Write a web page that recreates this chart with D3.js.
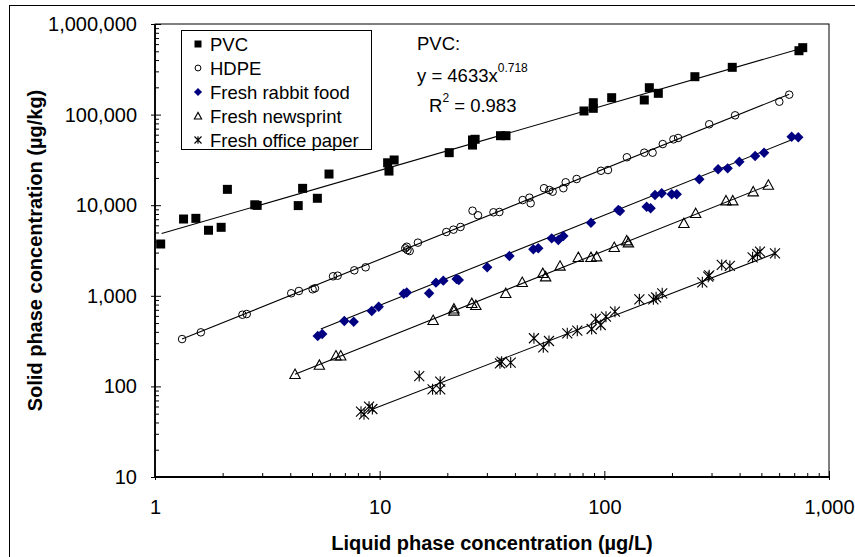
<!DOCTYPE html>
<html><head><meta charset="utf-8">
<script src="https://cdn.jsdelivr.net/npm/d3@7"></script>
<style>
html,body{margin:0;padding:0;background:#fff;}
svg{display:block;font-family:"Liberation Sans",Arial,sans-serif;}
</style></head>
<body>
<svg id="chart" width="855" height="557"></svg>
<script>
// ---- data ----
const seriesNames = ["PVC","HDPE","Fresh rabbit food","Fresh newsprint","Fresh office paper"];
const pvc = [[1.06,3730],[1.34,7040],[1.52,7160],[1.73,5290],[1.97,5700],[2.10,14960],[2.78,10100],[2.85,9950],[4.34,9900],[4.54,15350],[5.28,11920],[5.95,22080],[10.85,29400],[11.6,31550],[11.0,23800],[20.4,38000],[25.9,52500],[26.6,53400],[25.9,46100],[34.5,58500],[36.5,58500],[81.2,109600],[89.3,117300],[89.3,135300],[107.8,153700],[150.6,145000],[158.6,198100],[173.9,171700],[253,262000],[371,332400],[735,507000],[764,548000]];
const hdpe = [[1.32,333],[1.60,395],[2.45,618],[2.56,629],[4.04,1066],[4.37,1130],[5.03,1180],[5.15,1210],[6.2,1641],[6.5,1667],[7.71,1911],[8.66,2063],[13.0,3344],[13.3,3200],[13.6,3120],[13.2,3480],[14.8,3860],[19.8,5060],[21.3,5370],[22.9,5750],[25.9,8690],[27.4,7740],[32.1,8350],[34.1,8410],[43.3,11400],[46.4,12100],[47.0,10500],[53.9,15400],[56.9,14700],[58.9,14100],[65.7,15400],[67.3,17900],[75.3,19460],[96.6,24000],[103.8,24450],[126,33800],[150.6,38000],[164,38000],[182,47300],[203,53300],[213,55200],[293,78200],[382,98200],[601,138800],[665,166000]];
const rabbit = [[5.3,360],[5.55,378],[6.96,527],[7.66,518],[9.22,679],[9.9,758],[12.8,1055],[13.2,1085],[16.6,1066],[17.8,1397],[19.2,1470],[22.0,1530],[22.5,1493],[30.1,2063],[37.8,2750],[48.3,3260],[50.8,3343],[58.3,4305],[62.4,4130],[65.7,4570],[87.2,6410],[115.4,8850],[117.4,8630],[154.3,9620],[160.7,9240],[168.1,12960],[180,13520],[199.5,13200],[210,13200],[264.7,19300],[321,24900],[354,25500],[399,30200],[469,34900],[514,38000],[682,57000],[730,56100]];
const newsprint = [[4.20,136],[5.39,172],[6.39,218],[6.71,218],[17.3,537],[21.4,720],[21.4,680],[25.7,826],[26.8,785],[36.4,1066],[43.1,1410],[53.2,1770],[54.8,1626],[63.5,2134],[76.6,2660],[87.2,2660],[92.4,2700],[110.7,3430],[125.8,4060],[128,3855],[226,6310],[255,8130],[348,11210],[373,11210],[460,14100],[537,16700]];
const office = [[8.26,52.6],[8.52,49.2],[8.97,59.7],[9.28,56.3],[15.0,130],[17.2,92.9],[18.6,112.7],[18.6,92.9],[34.3,180],[34.9,187.6],[38.3,183],[48.6,340],[53.5,270],[56.7,317],[68.4,385],[75.8,412],[87.8,430],[91.5,555],[96.4,476],[101.7,588],[111.5,668],[143.2,915],[165.3,915],[170,962],[181,1066],[273,1410],[290,1626],[293,1683],[333,2190],[362,2134],[457,2660],[480,2893],[493,3070],[575,2946]];
// power-law fit lines y = a * x^b
const fitA = [4633, 252, 79.2, 32.9, 6.59];
const fitB = [0.718, 1.0, 0.996, 0.99, 0.96];
const fitXmin = [1.07, 1.32, 5.47, 4.2, 9.28];
const fitXmax = [785, 665, 718, 537, 575];
const xTicks = [1,10,100,1000];
const yTicks = [10,100,1000,10000,100000,1000000];

const allSeries = [pvc,hdpe,rabbit,newsprint,office];

// ---- layout ----
const L=155, R=829, T=24, B=477;
const svg = d3.select("#chart");
const x = d3.scaleLog().domain([1,1000]).range([L,R]);
const y = d3.scaleLog().domain([10,1e6]).range([B,T]);

// outer chart border (top/left visible)
svg.append("rect").attr("x",9.5).attr("y",5.5).attr("width",900).attr("height",600)
  .attr("fill","none").attr("stroke","#000").attr("stroke-width",1);

// minor ticks
const minorX = [], minorY = [];
for (let d=1; d<1000; d*=10) for (let k=2;k<=9;k++) minorX.push(d*k);
for (let d=10; d<1e6; d*=10) for (let k=2;k<=9;k++) minorY.push(d*k);

const fmt = d3.format(",");
function styleAxis(g){ g.select(".domain").remove(); g.selectAll("line").attr("stroke","#000"); }

svg.append("g").attr("transform",`translate(0,${B})`)
  .call(d3.axisBottom(x).tickValues(minorX).tickSize(-4).tickSizeOuter(0).tickFormat(""))
  .call(styleAxis);
svg.append("g").attr("transform",`translate(0,${B})`)
  .call(d3.axisBottom(x).tickValues(xTicks).tickSize(-6).tickSizeOuter(0).tickFormat(""))
  .call(styleAxis);
const gx = svg.append("g").attr("transform",`translate(0,${B})`)
  .call(d3.axisBottom(x).tickValues(xTicks).tickSize(3).tickSizeOuter(0).tickPadding(20).tickFormat(fmt))
  .call(styleAxis);
gx.selectAll("text").attr("font-size",20).attr("fill","#000").attr("font-family","Liberation Sans, Arial, sans-serif");

svg.append("g").attr("transform",`translate(${L},0)`)
  .call(d3.axisLeft(y).tickValues(minorY).tickSize(-4).tickSizeOuter(0).tickFormat(""))
  .call(styleAxis);
svg.append("g").attr("transform",`translate(${L},0)`)
  .call(d3.axisLeft(y).tickValues(yTicks).tickSize(-6).tickSizeOuter(0).tickFormat(""))
  .call(styleAxis);
const gy = svg.append("g").attr("transform",`translate(${L},0)`)
  .call(d3.axisLeft(y).tickValues(yTicks).tickSize(4).tickSizeOuter(0).tickPadding(14).tickFormat(fmt))
  .call(styleAxis);
gy.selectAll("text").attr("font-size",20).attr("fill","#000").attr("font-family","Liberation Sans, Arial, sans-serif");

// plot frame
svg.append("rect").attr("x",L).attr("y",T).attr("width",R-L).attr("height",B-T)
  .attr("fill","none").attr("stroke","#000").attr("stroke-width",1);
svg.append("path").attr("d",`M${L},${T}V${B}H${R}`).attr("fill","none").attr("stroke","#000").attr("stroke-width",1.8);

// fit lines
const line = d3.line().x(d=>x(d[0])).y(d=>y(d[1]));
const gl = svg.append("g");
fitA.forEach((a,i)=>{
  const pts = [fitXmin[i], fitXmax[i]].map(v=>[v, a*Math.pow(v,fitB[i])]);
  gl.append("path").attr("d",line(pts)).attr("fill","none").attr("stroke","#000").attr("stroke-width",1.1);
});

// markers
const markerSize = [9, 9, 9, 10, 10];
function markerPath(type, s){
  switch(type){
    case 0: return `M${-s/2},${-s/2}h${s}v${s}h${-s}z`;
    case 2: { const h=s*0.58; return `M0,${-h}L${h},0L0,${h}L${-h},0Z`; }
    case 3: { const w=s*0.52, t=s*0.52, b=s*0.42; return `M0,${-t}L${w},${b}L${-w},${b}Z`; }
    case 4: { const a=s*0.5; return `M${-a},${-a}L${a},${a}M${-a},${a}L${a},${-a}M0,${-a*1.1}V${a*1.1}`; }
  }
}
function drawMarker(g, type, cx, cy, s){
  if (type===1){
    g.append("circle").attr("cx",cx).attr("cy",cy).attr("r",s*0.42)
      .attr("fill","none").attr("stroke","#000").attr("stroke-width",1);
  } else {
    const p = g.append("path").attr("d",markerPath(type,s)).attr("transform",`translate(${cx},${cy})`);
    if (type===0) p.attr("fill","#000");
    else if (type===2) p.attr("fill","#000080");
    else p.attr("fill","none").attr("stroke","#000").attr("stroke-width",1.1);
  }
}
const gm = svg.append("g");
allSeries.forEach((data,i)=>{
  data.forEach(d=> drawMarker(gm, i, x(d[0]), y(d[1]), markerSize[i]));
});

// legend
const lg = svg.append("g");
lg.append("rect").attr("x",181.5).attr("y",30.5).attr("width",190).attr("height",119)
  .attr("fill","#fff").attr("stroke","#000").attr("stroke-width",1);
seriesNames.forEach((n,i)=>{
  const cy = 44 + 24*i;
  drawMarker(lg, i, 198, cy, 7);
  lg.append("text").attr("x",210).attr("y",cy+6.5).attr("font-size",18.5).attr("fill","#000").text(n);
});

// annotation
const ann = svg.append("g").attr("font-size",18.5).attr("fill","#000");
ann.append("text").attr("x",417).attr("y",50).text("PVC:");
const t2 = ann.append("text").attr("x",417).attr("y",81.5);
t2.append("tspan").text("y = 4633x");
t2.append("tspan").attr("font-size",12).attr("dy",-10).text("0.718");
const t3 = ann.append("text").attr("x",429).attr("y",111.5);
t3.append("tspan").text("R");
t3.append("tspan").attr("font-size",12).attr("dy",-10).text("2");
t3.append("tspan").attr("dy",10).text(" = 0.983");

// axis titles
svg.append("text").attr("x",(L+R)/2).attr("y",550).attr("text-anchor","middle")
  .attr("font-size",20).attr("font-weight","bold").text("Liquid phase concentration (µg/L)");
svg.append("text").attr("transform",`translate(42,${(T+B)/2}) rotate(-90)`).attr("text-anchor","middle")
  .attr("font-size",20).attr("font-weight","bold").text("Solid phase concentration (µg/kg)");
</script>
</body></html>
